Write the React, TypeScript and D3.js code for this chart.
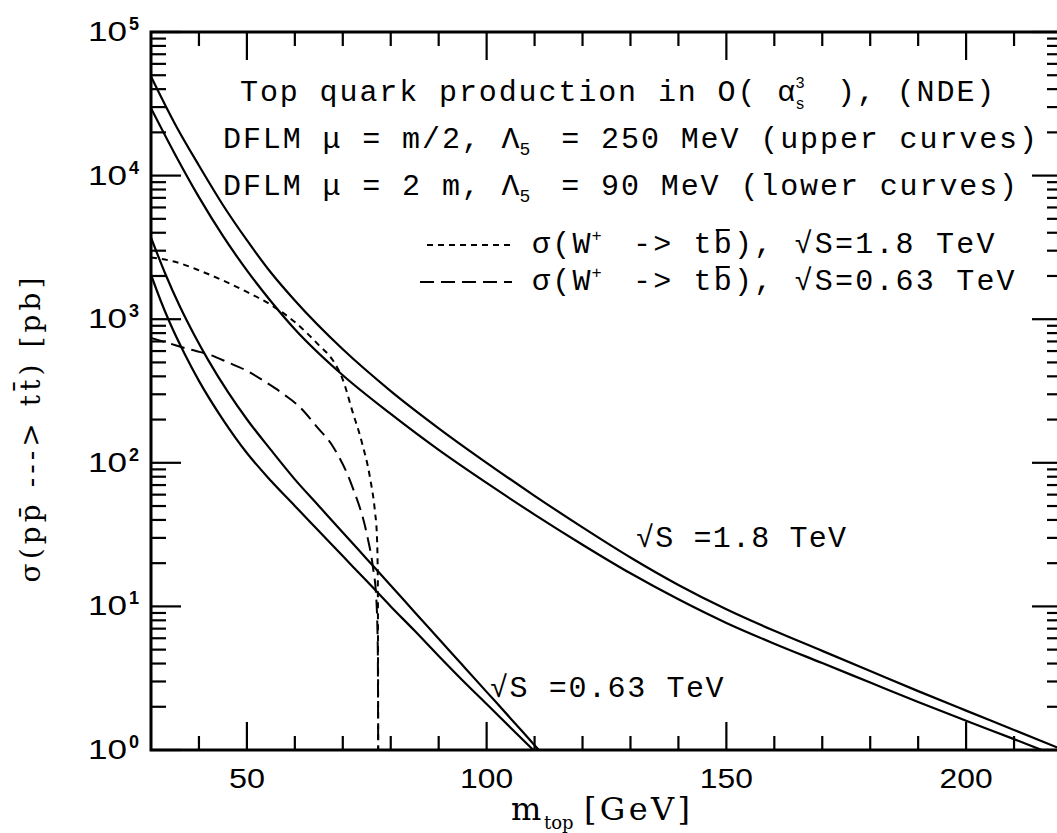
import React from "react";
import * as d3 from "d3";

// ---------- data ----------
// sqrt(S)=1.8 TeV, upper curve (mu = m/2, Lambda5 = 250 MeV)
const massUp18 = [30, 35, 40, 45, 50, 55, 60, 70, 80, 90, 100, 110, 120, 130, 140, 150, 160, 170, 180, 190, 200, 210, 220];
const sigmaUp18 = [49000, 22900, 11750, 6240, 3548, 2113, 1349, 617, 316, 174, 100, 58.9, 35.5, 21.9, 14.1, 9.55, 6.76, 4.9, 3.55, 2.57, 1.88, 1.38, 1.01];
// sqrt(S)=1.8 TeV, lower curve (mu = 2m, Lambda5 = 90 MeV)
const massLo18 = [30, 35, 40, 45, 50, 55, 60, 70, 80, 90, 100, 110, 120, 130, 140, 150, 160, 170, 180, 190, 200, 210, 220];
const sigmaLo18 = [29500, 14100, 7080, 3800, 2188, 1334, 851, 407, 219, 123, 72.4, 43.6, 26.9, 17.0, 11.2, 7.67, 5.5, 4.03, 2.95, 2.16, 1.6, 1.19, 0.88];
// sqrt(S)=0.63 TeV, upper curve
const massUp063 = [30, 33, 36, 39, 42, 46, 50, 55, 60, 65, 70, 75, 80, 85, 90, 95, 100, 105, 110, 112];
const sigmaUp063 = [3700, 2065, 1230, 780, 515, 313, 201, 123, 76.7, 50.1, 32.7, 21.4, 14.0, 9.12, 5.96, 3.89, 2.54, 1.66, 1.08, 0.91];
// sqrt(S)=0.63 TeV, lower curve
const massLo063 = [30, 32, 34, 37, 40, 45, 50, 55, 60, 65, 70, 75, 80, 85, 90, 95, 100, 105, 110];
const sigmaLo063 = [2040, 1350, 933, 575, 372, 200, 117, 75, 50.1, 33.5, 22.4, 15.0, 10.0, 6.76, 4.52, 3.05, 2.09, 1.43, 0.98];
// sigma(W+ -> t bbar), sqrt(S)=1.8 TeV (short dashes)
const massW18 = [30, 35, 40, 45, 50, 55, 60, 65, 68, 70, 72, 74, 75.7, 76.7, 77.1, 77.3, 77.4];
const sigmaW18 = [2690, 2510, 2190, 1860, 1550, 1260, 955, 660, 513, 380, 229, 138, 78, 46, 32, 16, 0.5];
// sigma(W+ -> t bbar), sqrt(S)=0.63 TeV (long dashes)
const massW063 = [30, 34, 38, 42, 46, 50, 54, 58, 61, 64.6, 68, 72, 75, 76.3, 77, 77.3, 77.4];
const sigmaW063 = [741, 676, 617, 569, 501, 437, 363, 295, 245, 178, 129, 68, 32, 18.6, 11.2, 5, 0.5];

const xTickValues = [50, 100, 150, 200];
const xTickLabels = ["50", "100", "150", "200"];
const yDecadeExponents = [0, 1, 2, 3, 4, 5];
const yDecadeLabels = ["0", "1", "2", "3", "4", "5"];

// ---------- layout ----------
const W = 1057;
const H = 833;
const L = 151, T = 32, R = 1062, B = 750;

const serif = "DejaVu Serif";
const sans = "Liberation Sans";
const tt = "Liberation Mono";

function slots(x0: number, adv: number, n: number) {
  const a: number[] = [];
  for (let i = 0; i < n; i++) a.push(+(x0 + i * adv).toFixed(1));
  return a.join(" ");
}

function Mono(props: { x0: number; y: number; adv: number; text: string; size?: number }) {
  const n = Array.from(props.text).length;
  return (
    <text x={slots(props.x0, props.adv, n)} y={props.y} fontFamily={tt} fontSize={props.size || 30}>
      {props.text}
    </text>
  );
}

export default function App() {
  const x = d3.scaleLinear().domain([30, 220]).range([L, R]);
  const y = d3.scaleLog().domain([1, 1e5]).range([B, T]);

  const line = d3
    .line<[number, number]>()
    .x((d) => x(d[0]))
    .y((d) => y(d[1]))
    .curve(d3.curveMonotoneX);

  const zip = (m: number[], s: number[]) => m.map((v, i) => [v, s[i]] as [number, number]);

  const solid = [
    zip(massUp18, sigmaUp18),
    zip(massLo18, sigmaLo18),
    zip(massUp063, sigmaUp063),
    zip(massLo063, sigmaLo063),
  ];

  const xMinor = d3.range(40, 220, 10).filter((v) => v % 50 !== 0);
  const yMinor: number[] = [];
  for (let d = 0; d < 5; d++) for (let k = 2; k <= 9; k++) yMinor.push(k * Math.pow(10, d));

  const tickW = 2.2;
  const adv = 19.9;
  const adv2 = 20.2;

  const leg = (yb: number, energy: string) => (
    <g>
      <Mono x0={532} y={yb} adv={adv2} text="σ(W" />
      <text x={532 + 3 * adv2 - 1} y={yb - 12} fontFamily={tt} fontSize={17}>+</text>
      <Mono x0={532 + 5 * adv2} y={yb} adv={adv2} text={"-> tb), √S=" + energy + " TeV"} />
      <line x1={532 + 9 * adv2 + 2} x2={532 + 9 * adv2 + 16} y1={yb - 23} y2={yb - 23} stroke="#000" strokeWidth={2} />
    </g>
  );

  return (
    <svg
      width={W}
      height={H}
      viewBox={`0 0 ${W} ${H}`}
      style={{ position: "absolute", left: 0, top: 0, background: "#fff" }}
    >
      <defs>
        <clipPath id="plotClip">
          <rect x={L} y={T} width={R - L} height={B - T} />
        </clipPath>
      </defs>
      <rect x={0} y={0} width={W} height={H} fill="#fff" />

      {/* curves */}
      <g clipPath="url(#plotClip)" fill="none" stroke="#000">
        {solid.map((d, i) => (
          <path key={i} d={line(d) || ""} strokeWidth={2.2} />
        ))}
        <path d={line(zip(massW18, sigmaW18)) || ""} strokeWidth={2} strokeDasharray="6 5" />
        <path d={line(zip(massW063, sigmaW063)) || ""} strokeWidth={2} strokeDasharray="14 7" />
      </g>

      {/* frame */}
      <rect x={L} y={T} width={R - L} height={B - T} fill="none" stroke="#000" strokeWidth={3} />

      {/* ticks */}
      <g stroke="#000" strokeWidth={tickW}>
        {xTickValues.map((v) => (
          <g key={"xM" + v}>
            <line x1={x(v)} x2={x(v)} y1={B} y2={B - 28} />
            <line x1={x(v)} x2={x(v)} y1={T} y2={T + 28} />
          </g>
        ))}
        {xMinor.map((v) => (
          <g key={"xm" + v}>
            <line x1={x(v)} x2={x(v)} y1={B} y2={B - 14} />
            <line x1={x(v)} x2={x(v)} y1={T} y2={T + 14} />
          </g>
        ))}
        {yDecadeExponents.map((e) => (
          <g key={"yM" + e}>
            <line x1={L} x2={L + 30} y1={y(Math.pow(10, e))} y2={y(Math.pow(10, e))} />
            <line x1={R} x2={R - 30} y1={y(Math.pow(10, e))} y2={y(Math.pow(10, e))} />
          </g>
        ))}
        {yMinor.map((v) => (
          <g key={"ym" + v}>
            <line x1={L} x2={L + 15} y1={y(v)} y2={y(v)} />
            <line x1={R} x2={R - 15} y1={y(v)} y2={y(v)} />
          </g>
        ))}
      </g>

      {/* x tick labels */}
      {xTickValues.map((v, i) => (
        <text
          key={"xl" + v}
          x={x(v)}
          y={788}
          textAnchor="middle"
          fontFamily={sans}
          fontSize={28}
          textLength={xTickLabels[i].length === 2 ? 36 : 53}
          lengthAdjust="spacingAndGlyphs"
        >
          {xTickLabels[i]}
        </text>
      ))}

      {/* y tick labels */}
      {yDecadeExponents.map((e, i) => {
        const yy = y(Math.pow(10, e));
        return (
          <g key={"yl" + e}>
            <text x={88} y={yy + 9} fontFamily={sans} fontSize={27} textLength={39} lengthAdjust="spacingAndGlyphs">
              10
            </text>
            <text x={129} y={yy - 2} fontFamily={sans} fontSize={18} fontWeight="bold">
              {yDecadeLabels[i]}
            </text>
          </g>
        );
      })}

      {/* axis titles */}
      <g fontFamily={serif}>
        <text x={511} y={820} fontSize={32}>m</text>
        <text x={544} y={829} fontSize={18}>top</text>
        <text x={584} y={820} fontSize={32} textLength={106} lengthAdjust="spacing">[GeV]</text>
        <text
          transform="translate(40,430) rotate(-90)"
          textAnchor="middle"
          fontSize={28}
          textLength={305}
          lengthAdjust="spacing"
        >
          σ(pp̄ ---&gt; tt̄) [pb]
        </text>
      </g>

      {/* header text */}
      <g fill="#000">
        <Mono x0={240} y={101} adv={adv} text="Top quark production in O( α" />
        <text x={240 + 28 * adv - 2} y={88} fontFamily={tt} fontSize={16}>3</text>
        <text x={240 + 28 * adv - 2} y={109} fontFamily={tt} fontSize={16}>s</text>
        <Mono x0={240 + 30 * adv} y={101} adv={adv} text="), (NDE)" />

        <Mono x0={223} y={148} adv={adv} text="DFLM μ = m/2, Λ" />
        <text x={223 + 15 * adv - 2} y={155} fontFamily={tt} fontSize={18}>5</text>
        <Mono x0={223 + 17 * adv} y={148} adv={adv} text="= 250 MeV (upper curves)" />

        <Mono x0={223} y={195} adv={adv} text="DFLM μ = 2 m, Λ" />
        <text x={223 + 15 * adv - 2} y={202} fontFamily={tt} fontSize={18}>5</text>
        <Mono x0={223 + 17 * adv} y={195} adv={adv} text="= 90 MeV (lower curves)" />

        {leg(253, "1.8")}
        {leg(290, "0.63")}

        {/* curve annotations */}
        <Mono x0={636} y={547} adv={19.2} text="√S =1.8 TeV" />
        <Mono x0={490} y={697} adv={19.6} text="√S =0.63 TeV" />
      </g>

      {/* legend samples */}
      <line x1={427} x2={512} y1={245} y2={245} stroke="#000" strokeWidth={2} strokeDasharray="6 5" />
      <line x1={420} x2={512} y1={282} y2={282} stroke="#000" strokeWidth={2} strokeDasharray="14 7" />
    </svg>
  );
}
